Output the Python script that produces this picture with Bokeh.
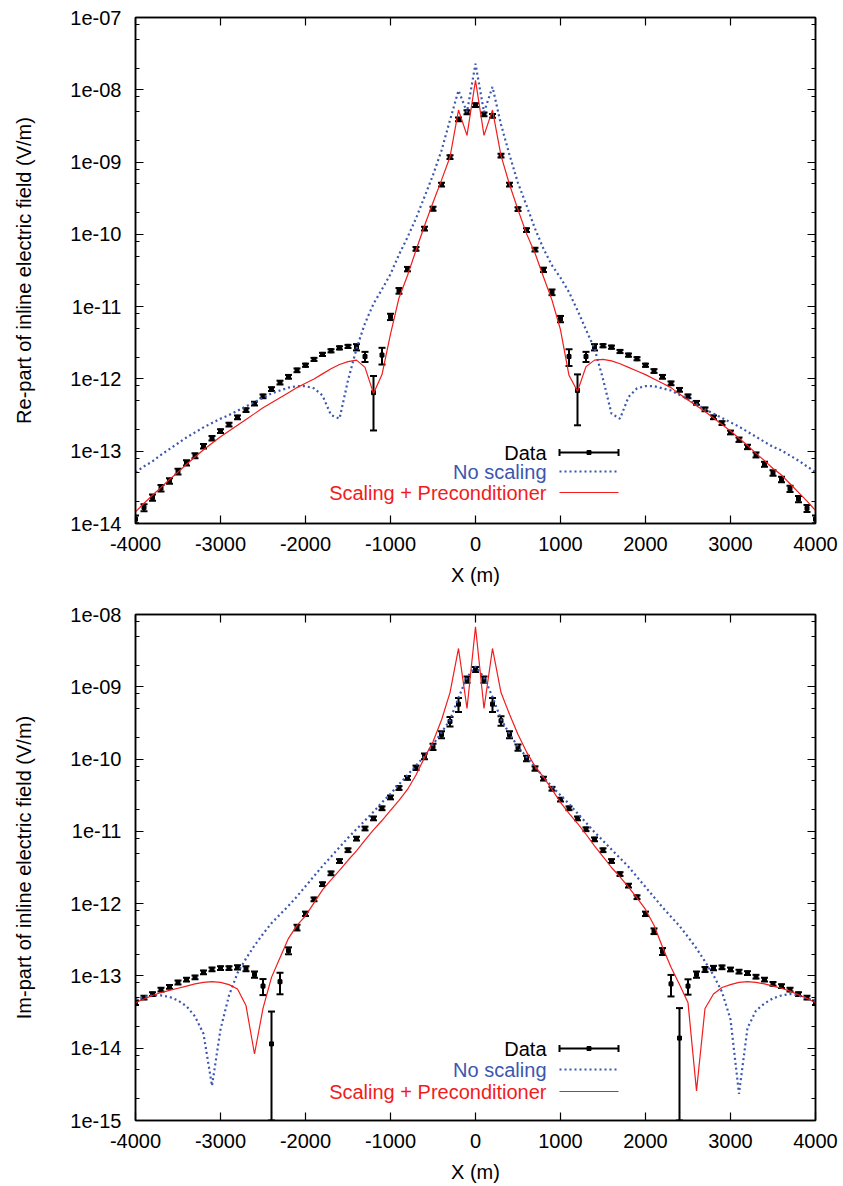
import numpy as np
from bokeh.plotting import figure
from bokeh.layouts import column
from bokeh.models import (Range1d, FixedTicker, CustomJSTickFormatter, LinearAxis, LogAxis,
                          Whisker, TeeHead, ColumnDataSource, LinearScale, CustomLabelingPolicy)
from bokeh.core.properties import value
from bokeh.embed import file_html
from bokeh.resources import INLINE

# ---------------- data (x every 100 m, values are log10 of field in V/m) ----------------
X_M = list(range(-4000, 4001, 100))
X_TICKS = [-4000, -3000, -2000, -1000, 0, 1000, 2000, 3000, 4000]

RE_DATA_LOG10 = [
    -13.94, -13.78, -13.64, -13.51, -13.41, -13.28, -13.16, -13.06, -12.93, -12.82,
    -12.72, -12.63, -12.53, -12.43, -12.34, -12.24, -12.14, -12.05, -11.97, -11.88,
    -11.81, -11.73, -11.66, -11.61, -11.57, -11.55, -11.56, -11.69, -12.19, -11.67,
    -11.14, -10.78, -10.48, -10.20, -9.92, -9.645, -9.31, -8.93, -8.41, -8.31,
    -8.21,
    -8.34, -8.36, -8.91, -9.31, -9.65, -9.94, -10.21, -10.49, -10.80, -11.17,
    -11.69, -12.16, -11.69, -11.56, -11.54, -11.56, -11.62, -11.67, -11.72, -11.81,
    -11.89, -11.97, -12.06, -12.15, -12.24, -12.33, -12.42, -12.53, -12.61, -12.74,
    -12.84, -12.94, -13.05, -13.18, -13.30, -13.39, -13.52, -13.66, -13.79, -13.94]
RE_DATA_ERR_REL = [
    0.12, 0.11, 0.10, 0.10, 0.09, 0.09, 0.08, 0.08, 0.07, 0.07,
    0.06, 0.06, 0.06, 0.06, 0.06, 0.06, 0.06, 0.06, 0.06, 0.06,
    0.05, 0.05, 0.05, 0.05, 0.05, 0.05, 0.10, 0.16, 0.70, 0.26,
    0.10, 0.09, 0.07, 0.06, 0.06, 0.06, 0.06, 0.06, 0.06, 0.06,
    0.06,
    0.06, 0.06, 0.06, 0.06, 0.06, 0.06, 0.06, 0.07, 0.09, 0.10,
    0.26, 0.67, 0.16, 0.10, 0.05, 0.05, 0.05, 0.05, 0.05, 0.05,
    0.06, 0.06, 0.06, 0.06, 0.06, 0.06, 0.06, 0.06, 0.06, 0.06,
    0.07, 0.07, 0.08, 0.08, 0.09, 0.09, 0.10, 0.10, 0.11, 0.12]
RE_NOSCALE_LOG10 = [
    -13.29, -13.21, -13.14, -13.05, -12.97, -12.89, -12.81, -12.74, -12.67, -12.61,
    -12.55, -12.50, -12.44, -12.38, -12.32, -12.26, -12.20, -12.16, -12.12, -12.10,
    -12.10, -12.13, -12.23, -12.50, -12.55, -12.02, -11.58, -11.23, -10.96, -10.76,
    -10.55, -10.28, -10.04, -9.78, -9.48, -9.18, -8.84, -8.42, -8.01, -8.31,
    -7.64,
    -8.31, -7.96, -8.48, -8.90, -9.29, -9.60, -9.92, -10.20, -10.43, -10.60,
    -10.80, -11.05, -11.32, -11.58, -12.00, -12.48, -12.55, -12.25, -12.13, -12.10,
    -12.10, -12.13, -12.16, -12.22, -12.28, -12.35, -12.42, -12.48, -12.54, -12.60,
    -12.66, -12.73, -12.80, -12.87, -12.94, -12.99, -13.06, -13.13, -13.21, -13.29]
RE_PRECOND_LOG10 = [
    -13.84, -13.72, -13.61, -13.50, -13.39, -13.29, -13.18, -13.08, -12.98, -12.89,
    -12.80, -12.72, -12.64, -12.56, -12.48, -12.40, -12.33, -12.26, -12.19, -12.12,
    -12.06, -12.00, -11.93, -11.86, -11.80, -11.76, -11.74, -11.84, -12.20, -11.94,
    -11.38, -10.88, -10.57, -10.22, -9.88, -9.56, -9.25, -8.93, -8.28, -8.63,
    -7.87,
    -8.63, -8.28, -8.91, -9.31, -9.66, -9.99, -10.26, -10.59, -10.91, -11.32,
    -11.95, -12.17, -11.83, -11.74, -11.73, -11.75, -11.79, -11.84, -11.89, -11.94,
    -12.00, -12.06, -12.12, -12.21, -12.29, -12.37, -12.45, -12.54, -12.63, -12.72,
    -12.82, -12.92, -13.03, -13.13, -13.24, -13.33, -13.45, -13.57, -13.69, -13.82]

IM_DATA_LOG10 = [
    -13.37, -13.30, -13.25, -13.19, -13.15, -13.09, -13.05, -13.02, -12.95, -12.91,
    -12.89, -12.89, -12.88, -12.90, -12.98, -13.14, -13.94, -13.08, -12.65, -12.33,
    -12.14, -11.94, -11.73, -11.58, -11.41, -11.26, -11.10, -10.96, -10.82, -10.68,
    -10.53, -10.40, -10.26, -10.12, -9.96, -9.83, -9.66, -9.48, -9.24, -8.90,
    -8.76,
    -8.90, -9.24, -9.47, -9.66, -9.84, -9.99, -10.13, -10.27, -10.41, -10.56,
    -10.68, -10.82, -10.97, -11.11, -11.26, -11.41, -11.59, -11.75, -11.91, -12.14,
    -12.38, -12.66, -13.11, -13.86, -13.14, -12.98, -12.91, -12.89, -12.88, -12.91,
    -12.94, -12.96, -13.01, -13.05, -13.11, -13.14, -13.19, -13.25, -13.30, -13.37]
IM_DATA_ERR_REL = [
    0.07, 0.06, 0.06, 0.06, 0.06, 0.06, 0.06, 0.06, 0.06, 0.06,
    0.06, 0.06, 0.07, 0.08, 0.10, 0.25, 1.80, 0.33, 0.11, 0.09,
    0.07, 0.06, 0.06, 0.06, 0.06, 0.06, 0.06, 0.06, 0.06, 0.06,
    0.06, 0.06, 0.06, 0.07, 0.09, 0.10, 0.11, 0.15, 0.22, 0.10,
    0.08,
    0.10, 0.22, 0.15, 0.11, 0.10, 0.09, 0.07, 0.06, 0.06, 0.06,
    0.06, 0.06, 0.06, 0.06, 0.06, 0.06, 0.06, 0.06, 0.06, 0.07,
    0.09, 0.11, 0.33, 1.60, 0.24, 0.10, 0.08, 0.07, 0.06, 0.06,
    0.06, 0.06, 0.06, 0.06, 0.06, 0.06, 0.06, 0.06, 0.06, 0.07]
IM_NOSCALE_LOG10 = [
    -13.32, -13.29, -13.27, -13.27, -13.29, -13.34, -13.42, -13.56, -13.80, -14.52,
    -13.74, -13.27, -12.96, -12.76, -12.58, -12.42, -12.27, -12.15, -12.03, -11.90,
    -11.76, -11.62, -11.48, -11.35, -11.22, -11.09, -10.97, -10.85, -10.73, -10.60,
    -10.48, -10.35, -10.22, -10.09, -9.96, -9.80, -9.63, -9.46, -9.15, -8.87,
    -8.72,
    -8.87, -9.14, -9.45, -9.65, -9.83, -9.97, -10.11, -10.25, -10.38, -10.50,
    -10.62, -10.75, -10.88, -11.01, -11.13, -11.25, -11.37, -11.49, -11.63, -11.77,
    -11.91, -12.05, -12.18, -12.31, -12.46, -12.62, -12.80, -12.99, -13.22, -13.60,
    -14.63, -13.72, -13.48, -13.38, -13.31, -13.27, -13.25, -13.27, -13.31, -13.35]
IM_PRECOND_LOG10 = [
    -13.37, -13.32, -13.27, -13.23, -13.20, -13.17, -13.14, -13.11, -13.09, -13.08,
    -13.09, -13.12, -13.18, -13.41, -14.08, -13.45, -13.02, -12.75, -12.48, -12.30,
    -12.17, -11.99, -11.81, -11.67, -11.54, -11.40, -11.27, -11.12, -10.98, -10.85,
    -10.71, -10.57, -10.42, -10.22, -9.98, -9.76, -9.46, -9.08, -8.47, -9.30,
    -8.17,
    -9.30, -8.47, -9.08, -9.38, -9.66, -9.90, -10.10, -10.25, -10.42, -10.60,
    -10.75, -10.89, -11.04, -11.20, -11.35, -11.50, -11.63, -11.77, -11.92, -12.08,
    -12.30, -12.60, -12.88, -13.12, -13.37, -14.59, -13.45, -13.25, -13.16, -13.12,
    -13.09, -13.08, -13.09, -13.11, -13.14, -13.17, -13.21, -13.26, -13.31, -13.37]

LEGEND_LABELS = ["Data", "No scaling", "Scaling + Preconditioner"]

# ---------------- styling ----------------
FONT = "Liberation Sans"
FS = "20px"
BLUE = "#3b57b0"
RED = "#f21c1c"
FRAME_W, FRAME_H = 680, 506


def make_panel(ylog_min, ylog_max, ylabel, data_log, err_rel, blue_log, red_log,
               top_border, bottom_border, legend_rows):
    ymin, ymax = 10.0 ** ylog_min, 10.0 ** ylog_max
    p = figure(frame_width=FRAME_W, frame_height=FRAME_H,
               x_range=Range1d(-4000, 4000), y_range=Range1d(ymin, ymax),
               y_axis_type="log", output_backend="svg", toolbar_location=None,
               min_border_left=135, min_border_right=28,
               min_border_top=top_border, min_border_bottom=bottom_border)
    p.grid.visible = False
    p.outline_line_color = "black"
    p.outline_line_width = 1.5
    p.background_fill_color = "white"
    p.border_fill_color = "white"
    # pixel-space helper range for the key (frame pixels)
    p.extra_x_ranges = {"px": Range1d(0, FRAME_W)}
    p.extra_y_ranges = {"px": Range1d(0, FRAME_H)}
    p.extra_x_scales = {"px": LinearScale()}
    p.extra_y_scales = {"px": LinearScale()}

    y_major = [10.0 ** e for e in range(ylog_min, ylog_max + 1)]
    y_minor = [m * 10.0 ** e for e in range(ylog_min, ylog_max) for m in (2, 5, 8)]
    yticker = FixedTicker(ticks=y_major, minor_ticks=y_minor)
    xticker = FixedTicker(ticks=X_TICKS)
    yfmt = CustomJSTickFormatter(code="""
        const s = tick.toExponential(0);
        return s.replace(/e([+-])(\\d)$/, (m, a, b) => 'e' + a + '0' + b);
    """)
    xfmt = CustomJSTickFormatter(code="return String(Math.round(tick));")
    nofmt = CustomJSTickFormatter(code="return '';")
    nolabels = CustomLabelingPolicy(code="""
        const ids = Array.from(indices);
        for (const i of ids) indices.unset(i);
        return indices;
    """)

    xa = p.xaxis[0]
    xa.ticker = xticker
    xa.formatter = xfmt
    xa.axis_label = "X (m)"
    ya = p.yaxis[0]
    ya.ticker = yticker
    ya.formatter = yfmt
    ya.axis_label = ylabel

    for ax in (xa, ya):
        ax.axis_line_width = 1.5
        ax.major_tick_in = 8
        ax.major_tick_out = 0
        ax.minor_tick_in = 4
        ax.minor_tick_out = 0
        ax.major_tick_line_width = 1.2
        ax.minor_tick_line_width = 1.2
        ax.major_label_text_font = FONT
        ax.major_label_text_font_size = FS
        ax.major_label_text_color = "black"
        ax.axis_label_text_font = FONT
        ax.axis_label_text_font_size = FS
        ax.axis_label_text_font_style = "normal"
        ax.axis_label_text_color = "black"
    xa.major_label_standoff = 13
    xa.axis_label_standoff = 10
    ya.major_label_standoff = 14
    ya.axis_label_standoff = 32

    # mirror axes (ticks only, no labels)
    top = LinearAxis(ticker=xticker, formatter=nofmt, major_label_policy=nolabels,
                     major_tick_in=8, major_tick_out=0,
                     major_label_text_font_size="1px", major_label_standoff=0,
                     axis_line_width=1.5, major_tick_line_width=1.2)
    right = LogAxis(ticker=yticker, formatter=nofmt, major_label_policy=nolabels,
                    major_tick_in=8, major_tick_out=0,
                    minor_tick_in=4, minor_tick_out=0,
                    major_label_text_font_size="1px", major_label_standoff=0,
                    axis_line_width=1.5, major_tick_line_width=1.2, minor_tick_line_width=1.2)
    p.add_layout(top, "above")
    p.add_layout(right, "right")

    # data with error bars
    vals = [10.0 ** v for v in data_log]
    his = [v * (1 + r) for v, r in zip(vals, err_rel)]
    los = [max(v * (1 - r), ymin) for v, r in zip(vals, err_rel)]
    src = ColumnDataSource(dict(x=X_M, y=vals, lo=los, hi=his))
    wh = Whisker(source=src, base="x", upper="hi", lower="lo", dimension="height",
                 line_color="black", line_width=2,
                 upper_head=TeeHead(size=7, line_width=2, line_color="black"),
                 lower_head=TeeHead(size=7, line_width=2, line_color="black"))
    p.add_layout(wh)
    p.scatter("x", "y", source=src, marker="square", size=4, color="black")

    # model curves
    p.line(X_M, [10.0 ** v for v in blue_log], line_color=BLUE, line_width=2.2, line_dash="2 3")
    p.line(X_M, [10.0 ** v for v in red_log], line_color=RED, line_width=1.2)

    # key (gnuplot style: right-aligned text, sample to the right), in frame pixels
    tx, s0, s1 = 411, 424, 483
    yd, yb, yr = legend_rows
    colors = ["black", BLUE, RED]
    p.text(x=[tx] * 3, y=list(legend_rows), text=LEGEND_LABELS,
           text_color=colors, text_align="right", text_baseline="middle",
           text_font=value(FONT), text_font_size=value(FS),
           x_range_name="px", y_range_name="px")
    p.segment(x0=[s0, s0, s1], y0=[yd, yd - 3.5, yd - 3.5],
              x1=[s1, s0, s1], y1=[yd, yd + 3.5, yd + 3.5],
              line_color="black", line_width=2, x_range_name="px", y_range_name="px")
    p.scatter(x=[(s0 + s1) / 2], y=[yd], marker="square", size=4, color="black",
              x_range_name="px", y_range_name="px")
    p.segment(x0=[s0], y0=[yb], x1=[s1], y1=[yb], line_color=BLUE, line_width=2.2,
              line_dash="2 3", x_range_name="px", y_range_name="px")
    p.segment(x0=[s0], y0=[yr], x1=[s1], y1=[yr], line_color=RED, line_width=1.2,
              x_range_name="px", y_range_name="px")
    return p


p1 = make_panel(-14, -7, "Re-part of inline electric field (V/m)",
                RE_DATA_LOG10, RE_DATA_ERR_REL, RE_NOSCALE_LOG10, RE_PRECOND_LOG10,
                top_border=17, bottom_border=72, legend_rows=(71, 52, 31))
p2 = make_panel(-15, -8, "Im-part of inline electric field (V/m)",
                IM_DATA_LOG10, IM_DATA_ERR_REL, IM_NOSCALE_LOG10, IM_PRECOND_LOG10,
                top_border=19, bottom_border=66, legend_rows=(72, 51, 29))

layout = column(p1, p2, spacing=0)
open("out.html", "w").write(file_html(layout, INLINE))
